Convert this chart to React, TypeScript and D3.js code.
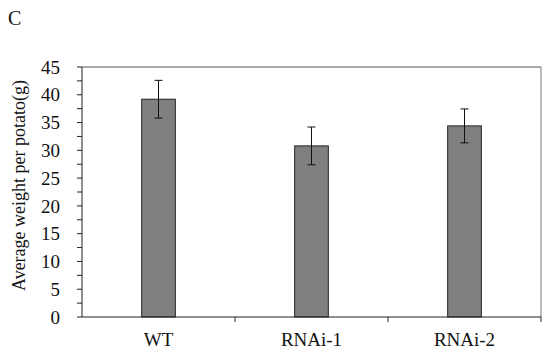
import React from "react";
import * as d3 from "d3";

const WIDTH = 550;
const HEIGHT = 357;
const MARGIN = { top: 67, right: 9, bottom: 40, left: 82 };

const categories = ["WT", "RNAi-1", "RNAi-2"];
const means = [39.2, 30.8, 34.4];
const errors = [3.4, 3.4, 3.05];
const yTicks = [0, 5, 10, 15, 20, 25, 30, 35, 40, 45];

const FONT = "Liberation Serif";

const App = () => {
  const boundsWidth = WIDTH - MARGIN.left - MARGIN.right;
  const boundsHeight = HEIGHT - MARGIN.top - MARGIN.bottom;

  const xScale = d3.scaleBand().domain(categories).range([0, boundsWidth]);
  const yScale = d3.scaleLinear().domain([0, 45]).range([boundsHeight, 0]);

  const barWidth = xScale.bandwidth() * 0.22;
  const minorTicks = d3.range(2.5, 45, 5);

  return (
    <svg
      width={WIDTH}
      height={HEIGHT}
      style={{ position: "absolute", left: 0, top: 0, fontFamily: FONT }}
    >
      <rect width={WIDTH} height={HEIGHT} fill="white" />
      <text x={8} y={25} fontSize={20} fill="#111">
        C
      </text>
      <g transform={`translate(${MARGIN.left},${MARGIN.top})`}>
        {/* frame top / right */}
        <line x1={0} x2={boundsWidth} y1={0} y2={0} stroke="#555" />
        <line x1={boundsWidth} x2={boundsWidth} y1={0} y2={boundsHeight} stroke="#777" />

        {categories.map((c, i) => {
          const cx = (xScale(c) as number) + xScale.bandwidth() / 2;
          const hi = yScale(means[i] + errors[i]);
          const lo = yScale(means[i] - errors[i]);
          return (
            <g key={c}>
              <rect
                x={cx - barWidth / 2}
                y={yScale(means[i])}
                width={barWidth}
                height={boundsHeight - yScale(means[i])}
                fill="#808080"
                stroke="#222"
                strokeWidth={1}
              />
              <line x1={cx} x2={cx} y1={hi} y2={lo} stroke="#111" />
              <line x1={cx - 4} x2={cx + 4} y1={hi} y2={hi} stroke="#111" />
              <line x1={cx - 4} x2={cx + 4} y1={lo} y2={lo} stroke="#111" />
              <text
                x={cx}
                y={boundsHeight + 29}
                textAnchor="middle"
                fontSize={19}
                fill="#111"
              >
                {c}
              </text>
            </g>
          );
        })}

        {/* y axis */}
        <line x1={0} x2={0} y1={0} y2={boundsHeight} stroke="#222" />
        {yTicks.map((t) => (
          <g key={t} transform={`translate(0,${yScale(t)})`}>
            <line x1={-5} x2={0} stroke="#222" />
            <text
              x={-22}
              dy="0.35em"
              textAnchor="end"
              fontSize={19}
              fill="#111"
            >
              {t}
            </text>
          </g>
        ))}
        {minorTicks.map((t) => (
          <line
            key={t}
            x1={-5}
            x2={0}
            y1={yScale(t)}
            y2={yScale(t)}
            stroke="#222"
          />
        ))}

        {/* x axis */}
        <line x1={0} x2={boundsWidth} y1={boundsHeight} y2={boundsHeight} stroke="#222" />
        {categories.slice(1).concat(["end"]).map((c, i) => {
          const x = i < 2 ? (xScale(c) as number) : boundsWidth;
          return (
            <line
              key={c}
              x1={x}
              x2={x}
              y1={boundsHeight}
              y2={boundsHeight + 5}
              stroke="#222"
            />
          );
        })}

        <text
          transform={`translate(${-57},${boundsHeight / 2 - 6.5}) rotate(-90)`}
          textAnchor="middle"
          fontSize={18}
          fill="#111"
        >
          Average weight per potato(g)
        </text>
      </g>
    </svg>
  );
};

export default App;
